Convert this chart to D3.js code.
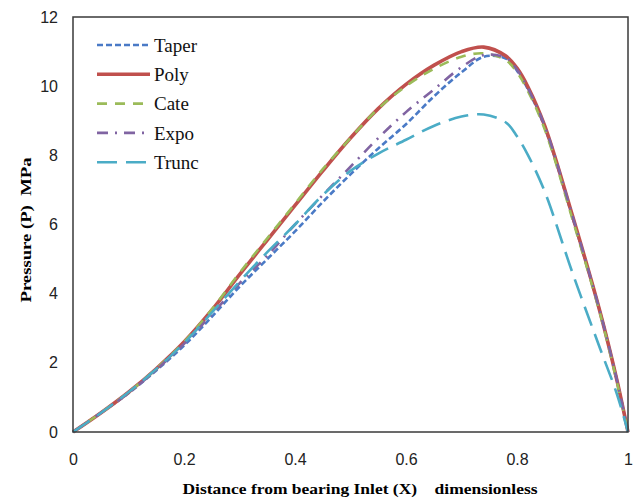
<!DOCTYPE html>
<html>
<head>
<meta charset="utf-8">
<script src="https://cdn.jsdelivr.net/npm/d3@7"></script>
<style>
  body { margin: 0; background: #fff; }
  svg { display: block; }
</style>
</head>
<body>
<div class="canvas"></div>
<script>
// data
const xs = [0, 0.05, 0.1, 0.15, 0.2, 0.25, 0.3, 0.35, 0.4, 0.45, 0.5, 0.55, 0.6, 0.65, 0.7, 0.74, 0.78, 0.8, 0.82, 0.85, 0.9, 0.95, 0.98, 1];
const taper = [0, 0.55, 1.12, 1.78, 2.5, 3.33, 4.2, 5.0, 5.8, 6.65, 7.45, 8.2, 8.9, 9.7, 10.4, 10.85, 10.8, 10.45, 9.9, 8.8, 6.2, 3.45, 1.5, 0];
const poly = [0, 0.55, 1.15, 1.83, 2.6, 3.52, 4.55, 5.55, 6.55, 7.55, 8.5, 9.35, 10.05, 10.6, 11.0, 11.13, 10.87, 10.52, 9.97, 8.85, 6.25, 3.45, 1.5, 0];
const cate = [0, 0.55, 1.15, 1.83, 2.6, 3.54, 4.6, 5.6, 6.6, 7.6, 8.5, 9.35, 10.0, 10.5, 10.85, 10.95, 10.75, 10.4, 9.85, 8.75, 6.15, 3.4, 1.45, 0];
const expo = [0, 0.55, 1.13, 1.8, 2.55, 3.4, 4.3, 5.1, 6.0, 6.85, 7.67, 8.5, 9.25, 9.9, 10.55, 10.9, 10.82, 10.48, 9.93, 8.85, 6.25, 3.45, 1.5, 0];
const trunc = [0, 0.55, 1.15, 1.82, 2.57, 3.45, 4.35, 5.2, 6.0, 6.85, 7.55, 8.05, 8.45, 8.85, 9.12, 9.18, 8.95, 8.55, 8.0, 6.95, 4.6, 2.4, 1.1, 0];

const seriesNames = ['Taper', 'Poly', 'Cate', 'Expo', 'Trunc'];
const seriesValues = [taper, poly, cate, expo, trunc];
const xTicks = [0, 0.2, 0.4, 0.6, 0.8, 1];
const yTicks = [0, 2, 4, 6, 8, 10, 12];

const styles = {
  Taper: { color: '#4a7ac6', width: 2.6, dash: '6,3' },
  Poly: { color: '#c0504d', width: 3.6, dash: null },
  Cate: { color: '#9bbb59', width: 2.6, dash: '10,8' },
  Expo: { color: '#8064a2', width: 2.6, dash: '11,7,2,7' },
  Trunc: { color: '#4bacc6', width: 2.6, dash: '20,9' },
};

const width = 638;
const height = 499;
const margin = { top: 17, right: 10, bottom: 67, left: 73 };
const graphWidth = width - margin.left - margin.right;
const graphHeight = height - margin.top - margin.bottom;

const svg = d3
  .select('.canvas')
  .append('svg')
  .attr('width', width)
  .attr('height', height);

const graph = svg
  .append('g')
  .attr('transform', `translate(${margin.left}, ${margin.top})`);

//scales
const x = d3.scaleLinear().domain([0, 1]).range([0, graphWidth]);
const y = d3.scaleLinear().domain([0, 12]).range([graphHeight, 0]);

//axes
const xAxis = d3.axisBottom(x).tickValues(xTicks).tickSize(0).tickPadding(22)
  .tickFormat((d) => d3.format('')(d));
const yAxis = d3.axisLeft(y).tickValues(yTicks).tickSize(0).tickPadding(15);

const xAxisGroup = graph.append('g')
  .attr('transform', `translate(0, ${graphHeight})`)
  .call(xAxis);
const yAxisGroup = graph.append('g').call(yAxis);

[xAxisGroup, yAxisGroup].forEach((g) => {
  g.select('.domain').remove();
  g.selectAll('text')
    .attr('font-family', '"Liberation Sans", Arial, sans-serif')
    .attr('font-size', 16)
    .attr('fill', '#222');
});

//line generator
const line = d3
  .line()
  .x((d, i) => x(xs[i]))
  .y((d) => y(d))
  .curve(d3.curveCatmullRom.alpha(0.5));

seriesNames.forEach((name, i) => {
  const s = styles[name];
  graph.append('path')
    .datum(seriesValues[i])
    .attr('fill', 'none')
    .attr('stroke', s.color)
    .attr('stroke-width', s.width)
    .attr('stroke-dasharray', s.dash)
    .attr('d', line);
});

//frame
graph.append('rect')
  .attr('width', graphWidth)
  .attr('height', graphHeight)
  .attr('fill', 'none')
  .attr('stroke', '#3a3a3a')
  .attr('stroke-width', 1.5);

//legend
const legend = svg.append('g').attr('transform', 'translate(97, 45)');
seriesNames.forEach((name, i) => {
  const s = styles[name];
  const row = legend.append('g').attr('transform', `translate(0, ${i * 29.3})`);
  row.append('line')
    .attr('x1', 0).attr('x2', 53)
    .attr('stroke', s.color)
    .attr('stroke-width', s.width)
    .attr('stroke-dasharray', s.dash);
  row.append('text')
    .attr('x', 57)
    .attr('dy', '0.35em')
    .attr('font-family', '"Liberation Serif", "Times New Roman", serif')
    .attr('font-size', 19)
    .attr('fill', '#111')
    .text(name);
});

//axis titles
svg.append('text')
  .attr('x', 360)
  .attr('y', 494)
  .attr('text-anchor', 'middle')
  .attr('font-family', '"Liberation Serif", "Times New Roman", serif')
  .attr('font-weight', 'bold')
  .attr('font-size', 15)
  .attr('textLength', 355)
  .attr('lengthAdjust', 'spacingAndGlyphs')
  .attr('xml:space', 'preserve')
  .text('Distance from bearing Inlet (X)    dimensionless');

svg.append('text')
  .attr('transform', 'translate(31, 230) rotate(-90)')
  .attr('text-anchor', 'middle')
  .attr('font-family', '"Liberation Serif", "Times New Roman", serif')
  .attr('font-weight', 'bold')
  .attr('font-size', 15)
  .attr('textLength', 145)
  .attr('lengthAdjust', 'spacingAndGlyphs')
  .attr('xml:space', 'preserve')
  .text('Pressure (P)  MPa');
</script>
</body>
</html>
